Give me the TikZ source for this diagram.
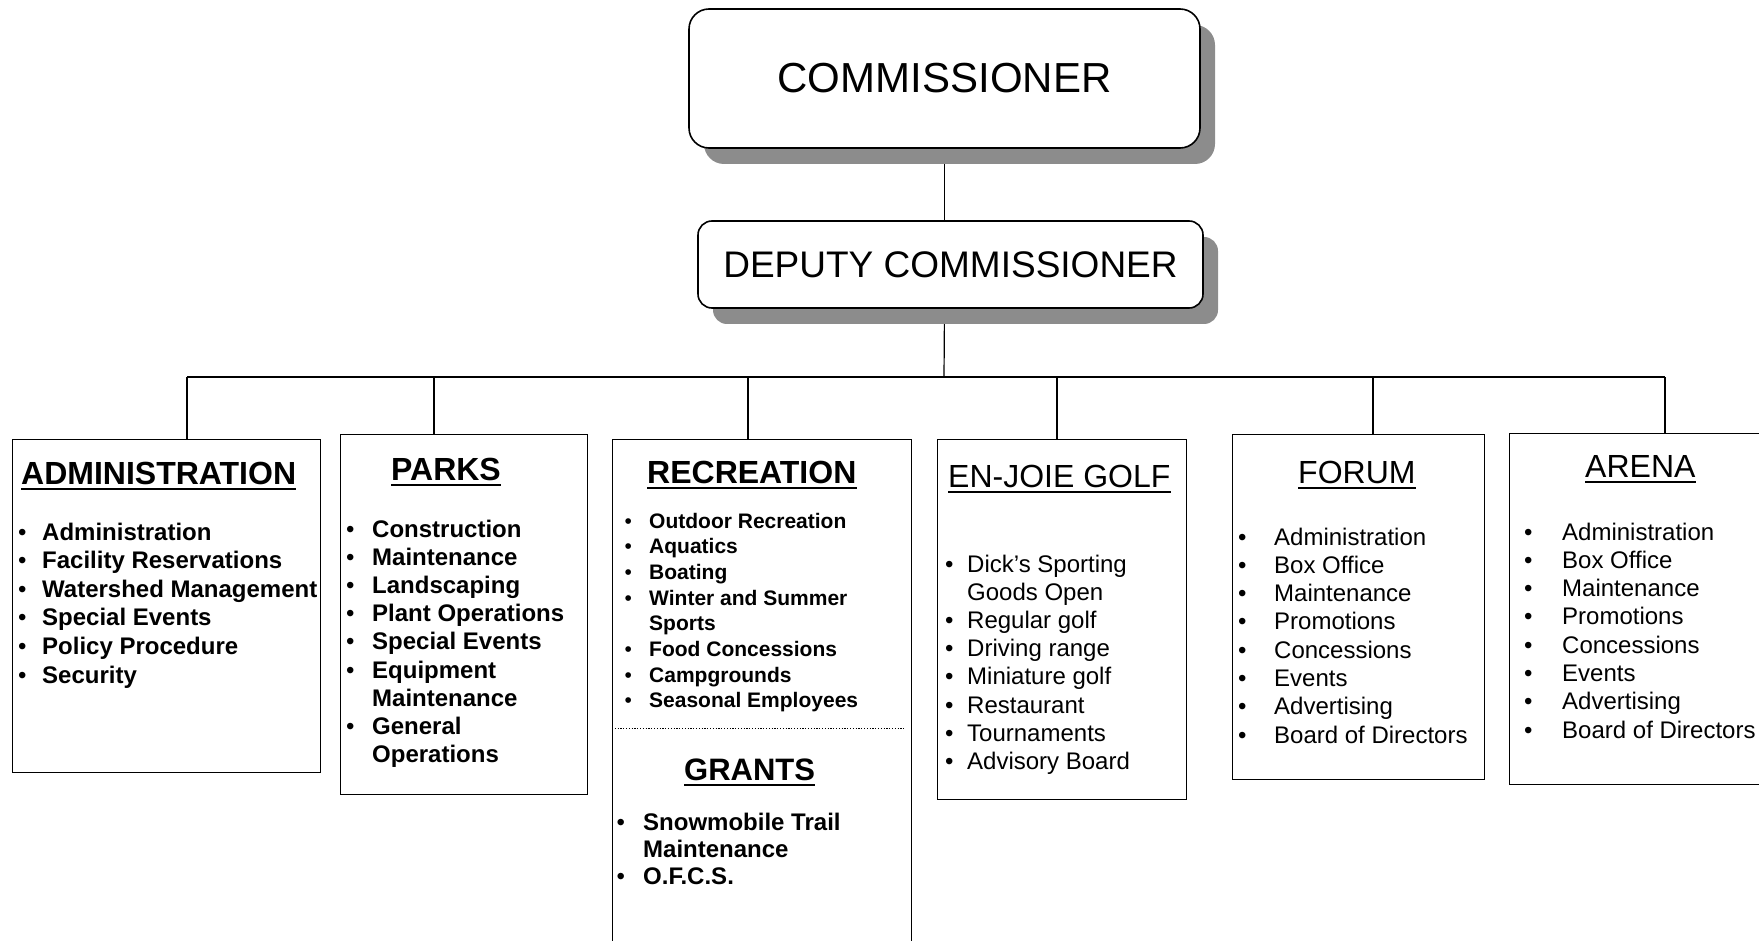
\documentclass[tikz,border=0pt]{standalone}
\usepackage{fontspec}
\setmainfont{Liberation Sans}
\usetikzlibrary{shadows}
\pgfdeclarelayer{bg}
\pgfsetlayers{bg,main}
\newlength\bw
\newcommand\bitem[1]{\makebox[\bw][l]{\mdseries\textbullet}#1}
\newcommand\bcont[1]{\hspace*{\bw}#1}
\newcommand\ulbar[1]{\draw[ulstyle] ([yshift=-4.5pt]#1.base west) -- ([yshift=-4.5pt]#1.base east);}
\begin{document}
\begin{tikzpicture}[x=1pt,y=-1pt,
  box/.style={draw, line width=1.3pt, fill=white, anchor=north west, inner sep=0pt},
  topbox/.style={draw, line width=1.6pt, fill=white, align=center, inner sep=0pt,
    drop shadow={shadow xshift=15pt, shadow yshift=-16pt, fill=black!45, opacity=1}},
  ttlB/.style={anchor=base west, inner sep=0pt, font=\fontsize{32}{38}\selectfont\bfseries},
  ttlR/.style={anchor=base west, inner sep=0pt, font=\fontsize{32}{38}\selectfont},
  lstB/.style={anchor=base west, inner sep=0pt, font=\fontsize{24}{#1}\selectfont\bfseries},
  lstR/.style={anchor=base west, inner sep=0pt, font=\fontsize{24}{#1}\selectfont},
  conn/.style={line width=1.2pt},
  ulstyle/.style={line width=2pt},
  sepline/.style={line width=1pt, dash pattern=on 1.2pt off 1.6pt}
]
\useasboundingbox (0,0) rectangle (1759,941);
\clip (0,0) rectangle (1759,941);

% top boxes
\node[topbox, minimum width=511pt, minimum height=139pt, rounded corners=20pt,
  font=\fontsize{42}{50}\selectfont] (comm) at (944.5,78.5) {COMMISSIONER};
\node[topbox, minimum width=505pt, minimum height=87pt, rounded corners=14pt,
  font=\fontsize{37}{44}\selectfont] (dep) at (950.5,264.5) {DEPUTY COMMISSIONER};

% department boxes
\node[box, minimum width=308pt, minimum height=333pt] (admin) at (12,439) {};
\node[box, minimum width=247pt, minimum height=360pt] (parks) at (340,434) {};
\node[box, minimum width=299pt, minimum height=520pt] (rec) at (612,439) {};
\node[box, minimum width=249pt, minimum height=360pt] (golf) at (937,439) {};
\node[box, minimum width=252pt, minimum height=345pt] (forum) at (1232,434) {};
\node[box, minimum width=270pt, minimum height=351pt] (arena) at (1509,433) {};

\draw[sepline] ([yshift=-289pt]rec.north west) -- ([yshift=-289pt, xshift=-7pt]rec.north east);

% titles
\node[ttlB] (tAdm) at (21,484) {ADMINISTRATION};
\node[ttlB] (tPark) at (391,480) {PARKS};
\node[ttlB] (tRec) at (647,483) {RECREATION};
\node[ttlB, font=\fontsize{31}{37}\selectfont\bfseries] (tGr) at (684,780) {GRANTS};
\node[ttlR] (tGolf) at (948,487) {EN-JOIE GOLF};
\node[ttlR] (tFor) at (1298,483) {FORUM};
\node[ttlR] (tAr) at (1585,477) {ARENA};
\ulbar{tAdm}\ulbar{tPark}\ulbar{tRec}\ulbar{tGr}\ulbar{tGolf}\ulbar{tFor}\ulbar{tAr}

% lists
\node[lstB=28.6] (lAdm) at (18,540) {\setlength\bw{24pt}\begin{tabular}[t]{@{}l@{}}
\bitem{Administration}\\ \bitem{Facility Reservations}\\ \bitem{Watershed Management}\\
\bitem{Special Events}\\ \bitem{Policy Procedure}\\ \bitem{Security}\end{tabular}};

\node[lstB=28.2] (lPark) at (346,537) {\setlength\bw{26pt}\begin{tabular}[t]{@{}l@{}}
\bitem{Construction}\\ \bitem{Maintenance}\\ \bitem{Landscaping}\\ \bitem{Plant Operations}\\
\bitem{Special Events}\\ \bitem{Equipment}\\ \bcont{Maintenance}\\ \bitem{General}\\
\bcont{Operations}\end{tabular}};

\node[anchor=base west, inner sep=0pt, font=\fontsize{21}{25.7}\selectfont\bfseries] (lRec) at (624.3,528)
{\setlength\bw{24.7pt}\begin{tabular}[t]{@{}l@{}}
\bitem{Outdoor Recreation}\\ \bitem{Aquatics}\\ \bitem{Boating}\\ \bitem{Winter and Summer}\\
\bcont{Sports}\\ \bitem{Food Concessions}\\ \bitem{Campgrounds}\\ \bitem{Seasonal Employees}\end{tabular}};

\node[lstB=27] (lGr) at (616.5,830) {\setlength\bw{26.5pt}\begin{tabular}[t]{@{}l@{}}
\bitem{Snowmobile Trail}\\ \bcont{Maintenance}\\ \bitem{O.F.C.S.}\end{tabular}};

\node[lstR=28.2] (lGolf) at (945,572) {\setlength\bw{22pt}\begin{tabular}[t]{@{}l@{}}
\bitem{Dick’s Sporting}\\ \bcont{Goods Open}\\ \bitem{Regular golf}\\ \bitem{Driving range}\\
\bitem{Miniature golf}\\ \bitem{Restaurant}\\ \bitem{Tournaments}\\ \bitem{Advisory Board}\end{tabular}};

\node[lstR=28.3] (lFor) at (1238,545) {\setlength\bw{36pt}\begin{tabular}[t]{@{}l@{}}
\bitem{Administration}\\ \bitem{Box Office}\\ \bitem{Maintenance}\\ \bitem{Promotions}\\
\bitem{Concessions}\\ \bitem{Events}\\ \bitem{Advertising}\\ \bitem{Board of Directors}\end{tabular}};

\node[lstR=28.3] (lAr) at (1524,540) {\setlength\bw{38pt}\begin{tabular}[t]{@{}l@{}}
\bitem{Administration}\\ \bitem{Box Office}\\ \bitem{Maintenance}\\ \bitem{Promotions}\\
\bitem{Concessions}\\ \bitem{Events}\\ \bitem{Advertising}\\ \bitem{Board of Directors}\end{tabular}};

% connectors
\begin{pgfonlayer}{bg}
\coordinate (bus) at (944,377);
\coordinate (dA) at (187,377);
\coordinate (dP) at (434,377);
\coordinate (dR) at (748,377);
\coordinate (dG) at (1057,377);
\coordinate (dF) at (1373,377);
\coordinate (dAr) at (1665,377);
\draw[conn] (comm.south) -- (comm.south |- dep.north);
\draw[conn] (comm.south |- dep.south) -- (bus);
\draw[conn] (dA) -- (dAr);
\draw[conn] (dA) -- (dA |- admin.north);
\draw[conn] (dP) -- (dP |- parks.north);
\draw[conn] (dR) -- (dR |- rec.north);
\draw[conn] (dG) -- (dG |- golf.north);
\draw[conn] (dF) -- (dF |- forum.north);
\draw[conn] (dAr) -- (dAr |- arena.north);
\end{pgfonlayer}
\end{tikzpicture}
\end{document}
